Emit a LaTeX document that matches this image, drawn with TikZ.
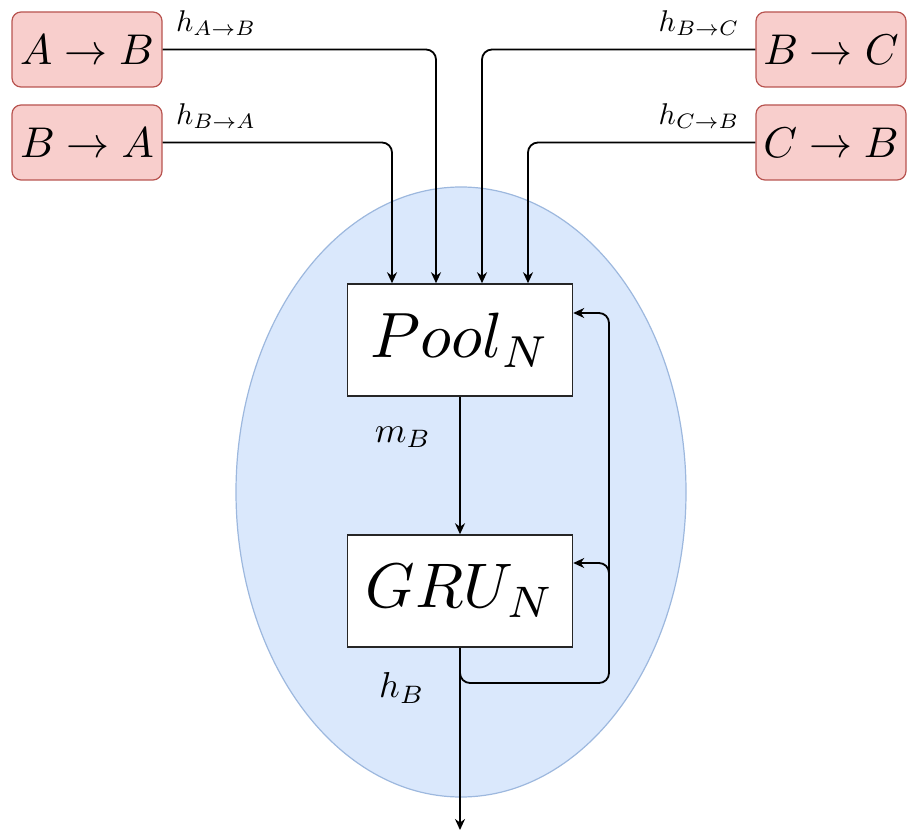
\documentclass[tikz,border=0pt]{standalone}
\usepackage{graphicx}
\usetikzlibrary{shapes.geometric,arrows.meta}
\definecolor{cellfill}{HTML}{DAE8FC}
\definecolor{celldraw}{HTML}{9DB8DE}
\definecolor{redfill}{HTML}{F8CECC}
\definecolor{reddraw}{HTML}{B85450}
\newcommand{\mybx}[2]{\scalebox{#1}{$#2$}}
\tikzset{
  redbox/.style={draw=reddraw, fill=redfill, line width=1.2pt, rounded corners=9pt,
    minimum width=150pt, minimum height=75pt, inner sep=0pt},
  wbox/.style={draw=black!85, fill=white, line width=1.5pt,
    minimum width=225pt, minimum height=112pt, inner sep=0pt},
  lbl/.style={inner sep=0pt},
  arr/.style={draw=black, line width=1.8pt, -{Stealth[length=11pt,width=10pt]}},
  conn/.style={draw=black, line width=1.8pt, rounded corners=10pt},
}
\begin{document}
\begin{tikzpicture}[x=1pt,y=-1pt]
\useasboundingbox (0,0) rectangle (907,834);
\node[ellipse, draw=celldraw, fill=cellfill, line width=1.2pt,
      minimum width=450pt, minimum height=610pt, inner sep=0pt] (cell) at (461,492) {};
\node[redbox] (ab) at (87,49.5) {\mybx{4.3}{A \rightarrow B}};
\node[redbox] (ba) at (87,142.5) {\mybx{4.3}{B \rightarrow A}};
\node[redbox] (bc) at (831,49.5) {\mybx{4.3}{B \rightarrow C}};
\node[redbox] (cb) at (831,142.5) {\mybx{4.3}{C \rightarrow B}};
\node[wbox] (pool) at (460,340) {\mybx{6.4}{Pool_N}};
\node[wbox] (gru) at (460,591) {\mybx{6.3}{GRU_N}};
\node[lbl] (lab) at (216,23) {\mybx{3}{h_{A\rightarrow B}}};
\node[lbl] (lba) at (216,116) {\mybx{3}{h_{B\rightarrow A}}};
\node[lbl] (lbc) at (699,23) {\mybx{3}{h_{B\rightarrow C}}};
\node[lbl] (lcb) at (699,116) {\mybx{3}{h_{C\rightarrow B}}};
\node[lbl] (lm) at (403,437) {\mybx{3.6}{m_B}};
\node[lbl] (lh) at (402,688) {\mybx{3.6}{h_B}};
\coordinate (out) at (460,830);
\coordinate (c1) at (609,683);
\coordinate (j) at (609,600);
\draw[conn, arr] (ab.east) -| ([xshift=-24]pool.north);
\draw[conn, arr] (ba.east) -| ([xshift=-68]pool.north);
\draw[conn, arr] (bc.west) -| ([xshift=22]pool.north);
\draw[conn, arr] (cb.west) -| ([xshift=68]pool.north);
\draw[arr] (pool.south) -- (gru.north);
\draw[arr] (gru.south) -- (out);
\draw[conn, arr] (gru.south) |- (c1) |- ([yshift=27]pool.east);
\draw[conn, arr] (j) |- ([yshift=28]gru.east);
\end{tikzpicture}
\end{document}
